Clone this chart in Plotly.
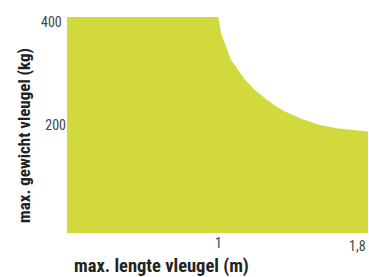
import plotly.graph_objects as go

# data
lengths = [0.19, 1.0, 1.015, 1.039, 1.067, 1.106, 1.142, 1.195, 1.258, 1.311, 1.356,
           1.454, 1.543, 1.632, 1.739, 1.80]
weights = [400, 400, 369, 345, 321, 302, 284, 265, 247, 234, 225,
           210, 200, 194, 190, 188]

x_tickvals = [1, 1.8]
x_ticktext = ["1", "1,8"]
y_tickvals = [200, 400]
y_ticktext = ["200", "400"]

x_title = "max. lengte vleugel (m)"
y_title = "max. gewicht vleugel (kg)"

fill_color = "#d1d93d"
cond = "Liberation Sans Narrow, Arial Narrow, Roboto Condensed, Arial, sans-serif"
tick_font = dict(family=cond, size=14, color="#444")

fig = go.Figure()
fig.add_trace(go.Scatter(
    x=lengths, y=weights, mode="lines", line=dict(width=0, color=fill_color),
    fill="tozeroy", fillcolor=fill_color, hoverinfo="skip", showlegend=False,
))

annotations = [
    dict(text="<b>" + x_title + "</b>", xref="paper", yref="paper",
         x=0.018, y=-0.152, xanchor="left", yanchor="middle", showarrow=False,
         font=dict(family=cond, size=18.5, color="#222")),
    dict(text="<b>" + y_title + "</b>", xref="paper", yref="paper",
         x=-0.141, y=0.452, xanchor="center", yanchor="middle", textangle=-90,
         showarrow=False, font=dict(family=cond, size=17, color="#222")),
    # end-of-axis tick labels nudged inside the canvas, as in the reference
    dict(text=x_ticktext[1], x=x_tickvals[1], xref="x", y=0, yref="paper",
         xanchor="right", yanchor="top", yshift=-3, showarrow=False, font=tick_font),
    dict(text=y_ticktext[1], y=y_tickvals[1], yref="y", x=0, xref="paper",
         xanchor="right", yanchor="middle", xshift=-3, yshift=-5, showarrow=False,
         font=tick_font),
]

fig.update_layout(
    width=369, height=277,
    margin=dict(l=67, r=1, t=17, b=44, autoexpand=False),
    paper_bgcolor="white", plot_bgcolor="white",
    xaxis=dict(range=[lengths[0], lengths[-1]], showgrid=False, zeroline=False,
               showline=False, ticks="", tickvals=x_tickvals[:1], ticktext=x_ticktext[:1],
               tickfont=tick_font, automargin=False),
    yaxis=dict(range=[0, 400], showgrid=False, zeroline=False, showline=False,
               ticks="", tickvals=y_tickvals[:1], ticktext=y_ticktext[:1],
               tickfont=tick_font, automargin=False),
    annotations=annotations,
)

fig.write_html("out.html", config={"displayModeBar": False},
               post_script="document.body.style.margin='0';")
